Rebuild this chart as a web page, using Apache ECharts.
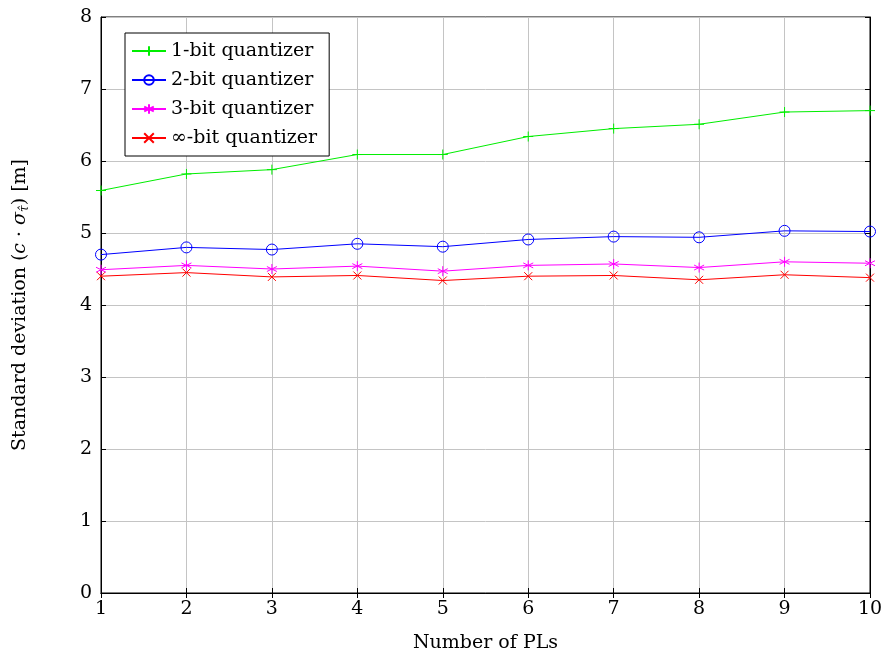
<!DOCTYPE html>
<html>
<head>
<meta charset="utf-8">
<script src="https://cdn.jsdelivr.net/npm/echarts@6/dist/echarts.min.js"></script>
<style>
html,body{margin:0;padding:0;background:#fff;}
#chart{width:885px;height:656px;}
</style>
</head>
<body>
<div id="chart"></div>
<script>
// Number of PLs on the x axis
const numPLs = [1, 2, 3, 4, 5, 6, 7, 8, 9, 10];

// Standard deviation (m) for each quantizer resolution
const oneBit   = [5.59, 5.82, 5.88, 6.09, 6.09, 6.34, 6.45, 6.51, 6.68, 6.70];
const twoBit   = [4.70, 4.80, 4.77, 4.85, 4.81, 4.91, 4.95, 4.94, 5.03, 5.02];
const threeBit = [4.49, 4.55, 4.50, 4.54, 4.47, 4.55, 4.57, 4.52, 4.60, 4.58];
const infBit   = [4.40, 4.45, 4.39, 4.41, 4.34, 4.40, 4.41, 4.35, 4.42, 4.38];

const seriesNames = ['1-bit quantizer', '2-bit quantizer', '3-bit quantizer', '\u221E-bit quantizer'];
const yTicks = [0, 1, 2, 3, 4, 5, 6, 7, 8];

const FONT = '"DejaVu Serif", "Liberation Serif", serif';
const FS = 19;

// stroke-only marker shapes
const plusPath = 'path://M5,0 L5,10 M0,5 L10,5';
const crossPath = 'path://M0,0 L10,10 M10,0 L0,10';
const starPath = 'path://M5,0 L5,10 M0.67,2.5 L9.33,7.5 M9.33,2.5 L0.67,7.5';

function pairs(vals) {
  return numPLs.map((x, i) => [x, vals[i]]);
}

function lineSeries(name, vals, color, symbol, size) {
  return {
    name: name,
    type: 'line',
    data: pairs(vals),
    symbol: symbol,
    symbolSize: size,
    showAllSymbol: true,
    lineStyle: { color: color, width: 1 },
    itemStyle: { color: 'rgba(0,0,0,0)', borderColor: color, borderWidth: 1 },
    emphasis: { disabled: true },
    z: 3
  };
}

const chart = echarts.init(document.getElementById('chart'), null, { renderer: 'canvas' });

const tickStyle = { inside: true, length: 5, lineStyle: { color: '#000', width: 1 } };

chart.setOption({
  animation: false,
  backgroundColor: '#fff',
  grid: {
    left: 101, right: 15, top: 17, bottom: 63,
    outerBoundsMode: 'none',
    containLabel: false,
    show: true, borderColor: '#000', borderWidth: 1, backgroundColor: 'transparent'
  },
  legend: {
    left: 125, top: 33,
    orient: 'vertical',
    backgroundColor: '#fff',
    borderColor: '#000', borderWidth: 1, borderRadius: 0,
    padding: [7, 12, 7, 6],
    itemWidth: 34, itemHeight: 12, itemGap: 7,
    textStyle: { fontFamily: FONT, fontSize: FS, color: '#000', lineHeight: 22 },
    data: seriesNames
  },
  xAxis: [{
    type: 'value',
    min: 1, max: 10, interval: 1,
    name: 'Number of PLs',
    nameLocation: 'middle',
    nameGap: 41,
    nameTextStyle: { fontFamily: FONT, fontSize: FS, color: '#000' },
    axisLine: { show: true, lineStyle: { color: '#000', width: 1 } },
    axisTick: tickStyle,
    axisLabel: { fontFamily: FONT, fontSize: FS, color: '#000', margin: 7 },
    splitLine: { show: true, lineStyle: { color: '#c4c4c4', width: 1 } }
  }, {
    type: 'value', position: 'top',
    min: 1, max: 10, interval: 1,
    axisLine: { show: true, lineStyle: { color: '#000' } },
    axisTick: tickStyle,
    axisLabel: { show: false },
    splitLine: { show: false }
  }],
  yAxis: [{
    type: 'value',
    min: yTicks[0], max: yTicks[yTicks.length - 1], interval: 1,
    name: 'Standard deviation ({it|c} \u00B7 {it|\u03C3}{sub|\u03C4\u0302}) [m]',
    nameLocation: 'middle',
    nameGap: 70,
    nameRotate: 90,
    nameTextStyle: {
      fontFamily: FONT, fontSize: FS, color: '#000',
      rich: {
        it: { fontFamily: FONT, fontSize: FS, fontStyle: 'italic', color: '#000' },
        sub: { fontFamily: FONT, fontSize: 12, fontStyle: 'italic', color: '#000', verticalAlign: 'bottom', padding: [9, 0, 0, 0] }
      }
    },
    axisLine: { show: true, lineStyle: { color: '#000', width: 1 } },
    axisTick: tickStyle,
    axisLabel: { fontFamily: FONT, fontSize: FS, color: '#000', margin: 9 },
    splitLine: { show: true, lineStyle: { color: '#c4c4c4', width: 1 } }
  }, {
    type: 'value', position: 'right',
    min: yTicks[0], max: yTicks[yTicks.length - 1], interval: 1,
    axisLine: { show: true, lineStyle: { color: '#000' } },
    axisTick: tickStyle,
    axisLabel: { show: false },
    splitLine: { show: false }
  }],
  series: [
    lineSeries(seriesNames[0], oneBit, '#00ee00', plusPath, 10),
    lineSeries(seriesNames[1], twoBit, '#0000ff', 'circle', 11),
    lineSeries(seriesNames[2], threeBit, '#ff00ff', starPath, 10),
    lineSeries(seriesNames[3], infBit, '#ff0000', crossPath, 8)
  ]
});
</script>
</body>
</html>
